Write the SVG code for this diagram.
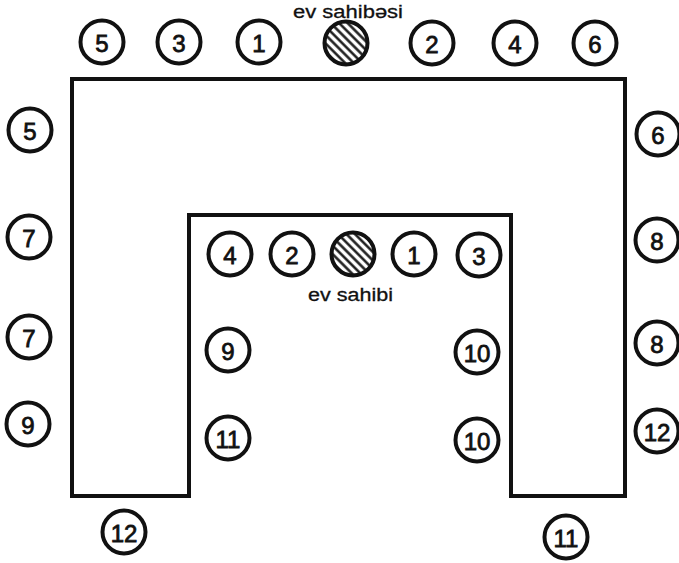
<svg xmlns="http://www.w3.org/2000/svg" width="679" height="563" viewBox="0 0 679 563">
<style>
.seat circle{fill:#fff;stroke:#111;stroke-width:4}
.seat text{font-family:"Liberation Sans",Arial,sans-serif;font-size:24px;fill:#111;stroke:#111;stroke-width:0.8;text-anchor:middle;dominant-baseline:central}
.host circle{fill:url(#hatch);stroke:#111;stroke-width:4}
.lbl{font-family:"Liberation Sans",Arial,sans-serif;font-size:18px;fill:#111;stroke:#111;stroke-width:0.3}
.table{fill:none;stroke:#111;stroke-width:4;stroke-linejoin:miter}
</style>
<defs>
<pattern id="hatch" width="6" height="6" patternUnits="userSpaceOnUse" patternTransform="rotate(-45)">
<rect width="6" height="6" fill="#fff"/>
<line x1="1.5" y1="0" x2="1.5" y2="6" stroke="#111" stroke-width="2.4"/>
</pattern>
</defs>
<rect width="679" height="563" fill="#fff"/>
<g id="table"><path class="table" d="M72,79 H625 V496 H511 V215 H189 V496 H72 Z"/></g>
<g id="connectors"></g>
<g id="host-top" class="host"><circle cx="346" cy="43" r="21.5"/></g>
<text class="lbl" x="293" y="18" textLength="110" lengthAdjust="spacingAndGlyphs">ev sahibəsi</text>
<g id="host-inner" class="host"><circle cx="353" cy="254" r="21.5"/></g>
<text class="lbl" x="308" y="301" font-size="19" textLength="85" lengthAdjust="spacingAndGlyphs">ev sahibi</text>
<g id="t5" class="seat"><circle cx="102" cy="42" r="21.5"/><text x="102" y="43">5</text></g>
<g id="t3" class="seat"><circle cx="179" cy="42" r="21.5"/><text x="179" y="43">3</text></g>
<g id="t1" class="seat"><circle cx="259" cy="42" r="21.5"/><text x="259" y="43">1</text></g>
<g id="t2" class="seat"><circle cx="432" cy="43" r="21.5"/><text x="432" y="44">2</text></g>
<g id="t4" class="seat"><circle cx="515" cy="43" r="21.5"/><text x="515" y="44">4</text></g>
<g id="t6" class="seat"><circle cx="595" cy="43" r="21.5"/><text x="595" y="44">6</text></g>
<g id="l5" class="seat"><circle cx="30" cy="130" r="21.5"/><text x="30" y="131">5</text></g>
<g id="l7a" class="seat"><circle cx="29" cy="237" r="21.5"/><text x="29" y="238">7</text></g>
<g id="l7b" class="seat"><circle cx="29" cy="337" r="21.5"/><text x="29" y="338">7</text></g>
<g id="l9" class="seat"><circle cx="28" cy="424" r="21.5"/><text x="28" y="425">9</text></g>
<g id="b12" class="seat"><circle cx="124" cy="532" r="21.5"/><text x="124" y="533">12</text></g>
<g id="r6" class="seat"><circle cx="658" cy="134" r="21.5"/><text x="658" y="135">6</text></g>
<g id="r8a" class="seat"><circle cx="657" cy="240" r="21.5"/><text x="657" y="241">8</text></g>
<g id="r8b" class="seat"><circle cx="657" cy="343" r="21.5"/><text x="657" y="344">8</text></g>
<g id="r12" class="seat"><circle cx="657" cy="431" r="21.5"/><text x="657" y="432">12</text></g>
<g id="b11" class="seat"><circle cx="566" cy="537" r="21.5"/><text x="566" y="538">11</text></g>
<g id="i4" class="seat"><circle cx="230" cy="254" r="21.5"/><text x="230" y="255">4</text></g>
<g id="i2" class="seat"><circle cx="292" cy="254" r="21.5"/><text x="292" y="255">2</text></g>
<g id="i1" class="seat"><circle cx="414" cy="254" r="21.5"/><text x="414" y="255">1</text></g>
<g id="i3" class="seat"><circle cx="479" cy="255" r="21.5"/><text x="479" y="256">3</text></g>
<g id="i9" class="seat"><circle cx="228" cy="350" r="21.5"/><text x="228" y="351">9</text></g>
<g id="i11" class="seat"><circle cx="228" cy="438" r="21.5"/><text x="228" y="439">11</text></g>
<g id="i10a" class="seat"><circle cx="477" cy="352" r="21.5"/><text x="477" y="353">10</text></g>
<g id="i10b" class="seat"><circle cx="477" cy="440" r="21.5"/><text x="477" y="441">10</text></g>
</svg>
